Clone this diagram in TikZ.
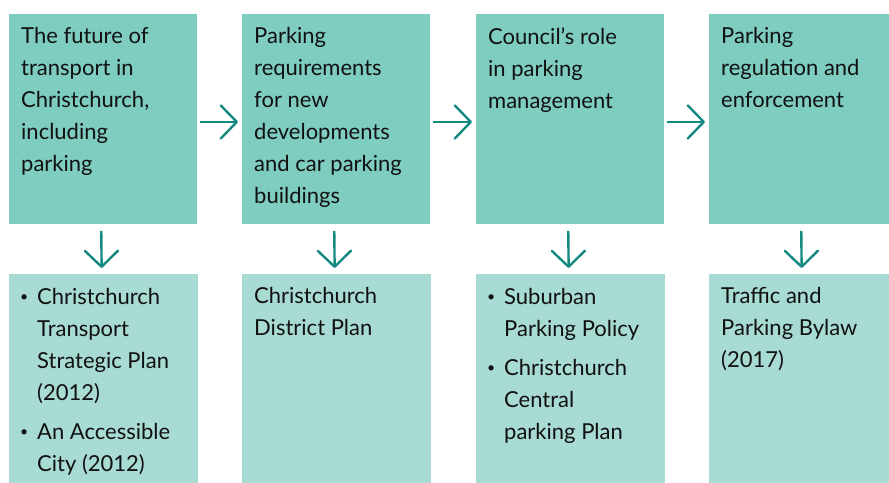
\documentclass[tikz,border=0pt]{standalone}
\usepackage{fontspec}
\setmainfont{Lato}
\usetikzlibrary{arrows.meta}
\definecolor{topfill}{HTML}{7ECDC0}
\definecolor{botfill}{HTML}{A7DBD3}
\definecolor{arrowteal}{HTML}{14897F}
\definecolor{ink}{HTML}{111111}
\tikzset{
  topbox/.style={fill=topfill, draw=none, inner sep=0pt, anchor=north west,
    minimum width=188pt, minimum height=209.5pt},
  botbox/.style={fill=botfill, draw=none, inner sep=0pt, anchor=north west,
    minimum width=189pt, minimum height=210pt},
  txt/.style={anchor=north west, inner sep=0pt, align=left, text=ink,
    font=\fontsize{22}{32}\selectfont},
  flow/.style={draw=arrowteal, line width=2.4pt,
    -{Straight Barb[length=16pt,width=33pt,round]}},
}
% small bullet followed by the hanging indent of a list item
\newcommand{\itemrow}{\makebox[17pt][l]{\raisebox{2.5pt}{\fontsize{14}{14}\selectfont\textbullet}}}
\begin{document}
\begin{tikzpicture}[x=1pt,y=-1pt]
\useasboundingbox (0,0) rectangle (889,482);
\clip (0,0) rectangle (889,482);
% upper row: topics
\node[topbox] (t1) at (9,14) {};
\node[topbox] (t2) at (242,14) {};
\node[topbox] (t3) at (476,14) {};
\node[topbox] (t4) at (709,14) {};
% lower row: documents
\node[botbox] (b1) at (9,274) {};
\node[botbox] (b2) at (242,274) {};
\node[botbox] (b3) at (476,274) {};
\node[botbox] (b4) at (709,274) {};
% topic texts
\node[txt] (t1x) at ([shift={(12pt,-13.5pt)}]t1.north west) {The future of\\transport in\\Christchurch,\\including\\parking};
\node[txt] (t2x) at ([shift={(12pt,-13.5pt)}]t2.north west) {Parking\\requirements\\for new\\developments\\and car parking\\buildings};
\node[txt] (t3x) at ([shift={(12pt,-13.5pt)}]t3.north west) {Council’s role\\in parking\\management};
\node[txt] (t4x) at ([shift={(12pt,-13.5pt)}]t4.north west) {Parking\\regulation and\\enforcement};
% document texts
\node[txt] (b1x) at ([shift={(11pt,-7.5pt)}]b1.north west) {%
  \begin{tabular}{@{}l@{}l@{}}
  \itemrow & Christchurch\\
  & Transport\\
  & Strategic Plan\\
  & (2012)\\[7pt]
  \itemrow & An Accessible\\
  & City (2012)
  \end{tabular}};
\node[txt] (b2x) at ([shift={(12pt,-13.5pt)}]b2.north west) {Christchurch\\District Plan};
\node[txt] (b3x) at ([shift={(11pt,-7.5pt)}]b3.north west) {%
  \begin{tabular}{@{}l@{}l@{}}
  \itemrow & Suburban\\
  & Parking Policy\\[7pt]
  \itemrow & Christchurch\\
  & Central\\
  & parking Plan
  \end{tabular}};
\node[txt] (b4x) at ([shift={(12pt,-13.5pt)}]b4.north west) {Traffic and\\Parking Bylaw\\(2017)};
% horizontal flow between topics
\draw[flow, shorten <=3pt, shorten >=4pt] ([yshift=-3pt]t1.east) -- ([yshift=-3pt]t2.west);
\draw[flow, shorten <=3pt, shorten >=4pt] ([yshift=-3pt]t2.east) -- ([yshift=-3pt]t3.west);
\draw[flow, shorten <=3pt, shorten >=4pt] ([yshift=-3pt]t3.east) -- ([yshift=-3pt]t4.west);
% vertical links from topics to documents
\foreach \i in {1,2,3,4}{
  \draw[flow, shorten <=7pt, shorten >=6pt] ([xshift=-2pt]t\i.south) -- ([xshift=-2pt]b\i.north);
}
\end{tikzpicture}
\end{document}
